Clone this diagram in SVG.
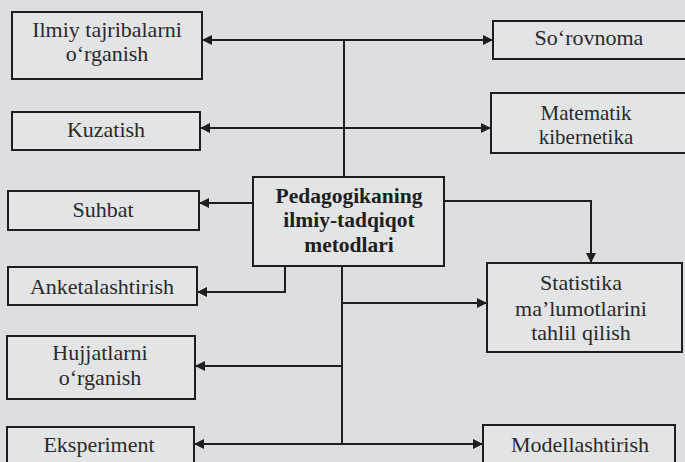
<svg xmlns="http://www.w3.org/2000/svg" width="685" height="462" viewBox="0 0 685 462">
<style>
.bx{fill:#e3e4e6;stroke:#1e1e1e;stroke-width:2}
.t{font-family:'Liberation Serif','Times New Roman',serif;font-size:22px;fill:#2a2a2a;text-anchor:middle}
.b{font-weight:bold;fill:#1e1e1e;font-size:21.5px}
.c{fill:none;stroke:#1e1e1e;stroke-width:2}
</style>
<defs>
<marker id="ah" viewBox="0 0 10 10" refX="9" refY="5" markerWidth="5" markerHeight="5" orient="auto" markerUnits="strokeWidth">
<path d="M0,0 L10,5 L0,10 Z" fill="#1e1e1e"/>
</marker>
</defs>
<rect width="685" height="462" fill="#dcdee1"/>
<g id="connectors" class="c">
<line x1="344" y1="177" x2="344" y2="40"/>
<line x1="344" y1="40" x2="203" y2="40" marker-end="url(#ah)"/>
<line x1="344" y1="40" x2="492" y2="40" marker-end="url(#ah)"/>
<line x1="344" y1="128" x2="201" y2="128" marker-end="url(#ah)"/>
<line x1="344" y1="128" x2="490" y2="128" marker-end="url(#ah)"/>
<line x1="252" y1="203" x2="200" y2="203" marker-end="url(#ah)"/>
<polyline points="444,201 591,201 591,262" marker-end="url(#ah)"/>
<polyline points="285,266 285,292 198,292" marker-end="url(#ah)"/>
<line x1="342" y1="266" x2="342" y2="444"/>
<line x1="342" y1="303" x2="486" y2="303" marker-end="url(#ah)"/>
<line x1="342" y1="366" x2="196" y2="366" marker-end="url(#ah)"/>
<line x1="342" y1="444" x2="195" y2="444" marker-end="url(#ah)"/>
<line x1="342" y1="444" x2="482" y2="444" marker-end="url(#ah)"/>
</g>
<g id="n-ilmiy"><rect class="bx" x="12" y="12" width="190" height="67"/><text class="t" x="107" y="37">Ilmiy tajribalarni</text><text class="t" x="107" y="61">o‘rganish</text></g>
<g id="n-kuzatish"><rect class="bx" x="12" y="112" width="188" height="38"/><text class="t" x="106" y="137">Kuzatish</text></g>
<g id="n-suhbat"><rect class="bx" x="8" y="191" width="191" height="39"/><text class="t" x="103" y="217">Suhbat</text></g>
<g id="n-anketa"><rect class="bx" x="8" y="267" width="189" height="38"/><text class="t" x="102" y="294">Anketalashtirish</text></g>
<g id="n-hujjat"><rect class="bx" x="7" y="336" width="188" height="63"/><text class="t" x="100" y="360">Hujjatlarni</text><text class="t" x="100" y="385">o‘rganish</text></g>
<g id="n-eksperiment"><rect class="bx" x="7" y="427" width="187" height="45"/><text class="t" x="99" y="452">Eksperiment</text></g>
<g id="n-center"><rect class="bx" x="253" y="177" width="191" height="89"/><text class="t b" x="349" y="203">Pedagogikaning</text><text class="t b" x="349" y="227">ilmiy-tadqiqot</text><text class="t b" x="349" y="252">metodlari</text></g>
<g id="n-sorovnoma"><rect class="bx" x="493" y="21" width="195" height="38"/><text class="t" x="589" y="45">So‘rovnoma</text></g>
<g id="n-matematik"><rect class="bx" x="491" y="93" width="197" height="60"/><text class="t" x="586" y="120" style="font-size:21px">Matematik</text><text class="t" x="586" y="144" style="font-size:21px">kibernetika</text></g>
<g id="n-statistika"><rect class="bx" x="487" y="263" width="195" height="89"/><text class="t" x="581" y="290">Statistika</text><text class="t" x="581" y="316">ma’lumotlarini</text><text class="t" x="581" y="340">tahlil qilish</text></g>
<g id="n-model"><rect class="bx" x="483" y="425" width="192" height="47"/><text class="t" x="580" y="452">Modellashtirish</text></g>
</svg>
